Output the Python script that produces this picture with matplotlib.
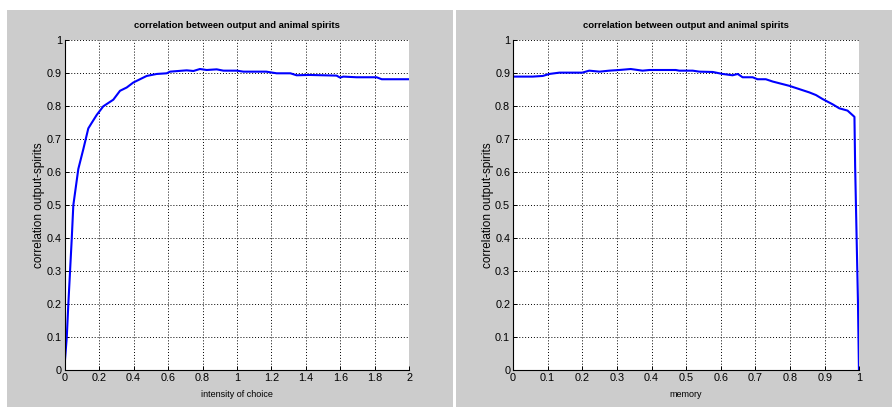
import numpy as np
import matplotlib
matplotlib.use("Agg")
import matplotlib.pyplot as plt
from matplotlib.patches import Rectangle

# correlation vs intensity of choice
choice_x = [0.0, 0.012, 0.021, 0.031, 0.041, 0.05, 0.079, 0.108, 0.137, 0.157, 0.186,
            0.224, 0.282, 0.321, 0.36, 0.398, 0.476, 0.534, 0.592, 0.611, 0.708, 0.747,
            0.785, 0.824, 0.882, 0.921, 1.0, 1.037, 1.17, 1.23, 1.31, 1.346, 1.42,
            1.578, 1.598, 1.617, 1.694, 1.81, 1.84, 2.0]
choice_y = [0.02, 0.10, 0.20, 0.30, 0.40, 0.50, 0.61, 0.67, 0.733, 0.75, 0.774,
            0.80, 0.82, 0.847, 0.857, 0.872, 0.892, 0.898, 0.90, 0.905, 0.909, 0.907,
            0.913, 0.91, 0.912, 0.908, 0.908, 0.905, 0.905, 0.90, 0.90, 0.894, 0.895,
            0.893, 0.887, 0.89, 0.888, 0.888, 0.882, 0.882]

# correlation vs memory
memory_x = [0.0, 0.057, 0.086, 0.105, 0.134, 0.2, 0.22, 0.25, 0.278, 0.307, 0.34,
            0.374, 0.394, 0.47, 0.48, 0.519, 0.538, 0.577, 0.605, 0.634, 0.649, 0.663,
            0.692, 0.706, 0.73, 0.75, 0.798, 0.827, 0.856, 0.875, 0.894, 0.923, 0.942,
            0.966, 0.986, 0.988, 0.992, 0.996, 0.999]
memory_y = [0.89, 0.89, 0.892, 0.898, 0.902, 0.902, 0.908, 0.905, 0.908, 0.91, 0.913,
            0.908, 0.91, 0.91, 0.908, 0.908, 0.905, 0.904, 0.898, 0.894, 0.898, 0.888,
            0.888, 0.882, 0.882, 0.875, 0.862, 0.852, 0.842, 0.834, 0.822, 0.806, 0.794,
            0.787, 0.768, 0.617, 0.415, 0.213, 0.0]

title = "correlation between output and animal spirits"
ylab = "correlation output-spirits"

narrow = ['Liberation Sans Narrow', 'Liberation Sans', 'DejaVu Sans']

fig = plt.figure(figsize=(8.92, 4.07), dpi=100)
fig.patch.set_facecolor('white')

gray = '#cccccc'
fig.add_artist(Rectangle((7 / 892, 0), 446 / 892, 397 / 407, transform=fig.transFigure,
                         facecolor=gray, edgecolor='none', zorder=0))
fig.add_artist(Rectangle((456 / 892, 0), 436 / 892, 397 / 407, transform=fig.transFigure,
                         facecolor=gray, edgecolor='none', zorder=0))


def panel(rect, x, y, xmax, xticks, xlabel):
    ax = fig.add_axes(rect)
    ax.set_facecolor('white')
    ax.plot(x, y, color='#0000ff', lw=1.5)
    ax.set_xlim(0, xmax)
    ax.set_ylim(0, 1)
    yt = np.round(np.arange(0, 1.01, 0.1), 1)
    ax.set_xticks(xticks)
    ax.set_yticks(yt)
    ax.set_xticklabels([f"{t:g}" for t in xticks], family=narrow, fontsize=7.8)
    ax.set_yticklabels([f"{t:g}" for t in yt], family=narrow, fontsize=7.8)
    ax.grid(True, color='black', linestyle=(0, (1, 2)), lw=0.7)
    ax.tick_params(direction='in', length=3, width=0.7, pad=2)
    for s in ['top', 'right']:
        ax.spines[s].set_visible(False)
    for s in ['left', 'bottom']:
        ax.spines[s].set_linewidth(0.8)
    ax.set_title(title, family=narrow, fontsize=6.8, fontweight='bold', pad=9)
    ax.set_xlabel(xlabel, family=narrow, fontsize=6.5, labelpad=5)
    ax.set_ylabel(ylab, family='Liberation Sans', fontsize=8.5, labelpad=1)
    return ax


panel([64.7 / 892, 36.7 / 407, 344.6 / 892, 330 / 407], choice_x, choice_y, 2,
      [0, 0.2, 0.4, 0.6, 0.8, 1, 1.2, 1.4, 1.6, 1.8, 2], "intensity of choice")
panel([513 / 892, 36.7 / 407, 346.3 / 892, 330 / 407], memory_x, memory_y, 1,
      [0, 0.1, 0.2, 0.3, 0.4, 0.5, 0.6, 0.7, 0.8, 0.9, 1], "memory")

fig.savefig("out.png", dpi=100)
